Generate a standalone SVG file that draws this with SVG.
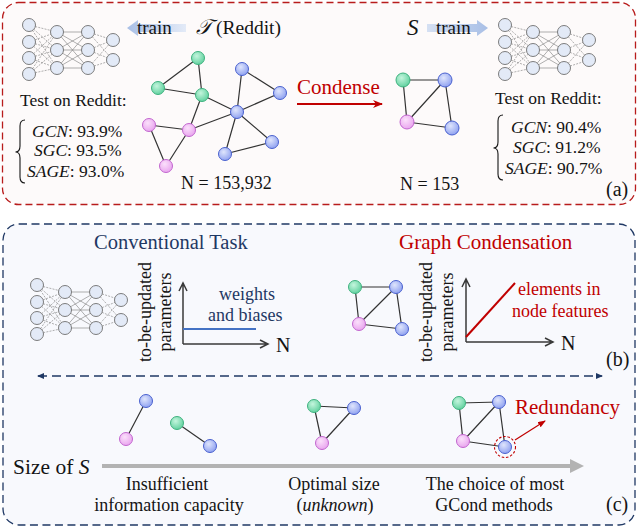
<svg xmlns="http://www.w3.org/2000/svg" xmlns:xlink="http://www.w3.org/1999/xlink" width="640" height="528" viewBox="0 0 640 528" font-family="'Liberation Serif', 'DejaVu Serif', serif">
<defs>
<style>
text{font-family:'Liberation Serif','DejaVu Serif',serif;fill:#141414}
.t175{font-size:17.5px}
.t18{font-size:18px}
.it{font-style:italic}
.red{fill:#c00000}
.navy{fill:#1f3864}
.edge{stroke:#333;stroke-width:1.2;fill:none}
.nn{fill:#e3eaf7;stroke:#6e6e6e;stroke-width:0.9}
.nnl{stroke:#7a7a7a;stroke-width:0.6;fill:none}
.nnd{stroke:#7a7a7a;stroke-width:0.6;fill:none;stroke-dasharray:2 1.2}
.g{fill:url(#gG);stroke:#3fb27f;stroke-width:1}
.b{fill:url(#gB);stroke:#4a61cf;stroke-width:1}
.p{fill:url(#gP);stroke:#c266cf;stroke-width:1}
.axis{stroke:#3a3a3a;stroke-width:1.5;fill:none}
</style>
<radialGradient id="gG" cx="0.4" cy="0.35" r="0.7"><stop offset="0" stop-color="#c4f5dd"/><stop offset="1" stop-color="#5ccf9c"/></radialGradient>
<radialGradient id="gB" cx="0.4" cy="0.35" r="0.7"><stop offset="0" stop-color="#dfe5fc"/><stop offset="1" stop-color="#8b9ef0"/></radialGradient>
<radialGradient id="gP" cx="0.4" cy="0.35" r="0.7"><stop offset="0" stop-color="#fbe0fb"/><stop offset="1" stop-color="#e8a2ee"/></radialGradient>
<linearGradient id="trL" x1="0" y1="0" x2="1" y2="0"><stop offset="0" stop-color="#a9bfe6"/><stop offset="1" stop-color="#e3eaf7"/></linearGradient>
<linearGradient id="trR" x1="0" y1="0" x2="1" y2="0"><stop offset="0" stop-color="#d5e0f3"/><stop offset="1" stop-color="#a9bfe6"/></linearGradient>
<marker id="arRed" markerWidth="10" markerHeight="8" refX="9" refY="4" orient="auto" markerUnits="userSpaceOnUse"><path d="M0,0 L10,4 L0,8 L3,4 Z" fill="#c00000"/></marker>
<marker id="arNavy" markerWidth="7" markerHeight="6" refX="6" refY="3" orient="auto-start-reverse" markerUnits="userSpaceOnUse"><path d="M0,0 L7,3 L0,6 Z" fill="#1f3864"/></marker>
<marker id="arRed2" markerWidth="8" markerHeight="6" refX="7" refY="3" orient="auto" markerUnits="userSpaceOnUse"><path d="M0,0 L8,3 L0,6 Z" fill="#c00000"/></marker>
<g id="nnet">
<path class="nnd" d="M29 25L57 32M29 25L57 50M29 25L57 68M29 42L57 32M29 42L57 50M29 42L57 68M29 58L57 32M29 58L57 50M29 58L57 68M29 74L57 32M29 74L57 50M29 74L57 68"/>
<path class="nnl" d="M57 32L88 32M57 32L88 50M57 32L88 68M57 50L88 32M57 50L88 50M57 50L88 68M57 68L88 32M57 68L88 50M57 68L88 68"/>
<path class="nnd" d="M88 32L113 40M88 32L113 60M88 50L113 40M88 50L113 60M88 68L113 40M88 68L113 60"/>
<circle class="nn" cx="29" cy="25" r="6.5"/><circle class="nn" cx="29" cy="42" r="6.5"/><circle class="nn" cx="29" cy="58" r="6.5"/><circle class="nn" cx="29" cy="74" r="6.5"/>
<circle class="nn" cx="57" cy="32" r="6.5"/><circle class="nn" cx="57" cy="50" r="6.5"/><circle class="nn" cx="57" cy="68" r="6.5"/>
<circle class="nn" cx="88" cy="32" r="6.5"/><circle class="nn" cx="88" cy="50" r="6.5"/><circle class="nn" cx="88" cy="68" r="6.5"/>
<circle class="nn" cx="113" cy="40" r="6.5"/><circle class="nn" cx="113" cy="60" r="6.5"/>
</g>
</defs>

<!-- panel frames -->
<rect x="2.5" y="2.5" width="633" height="202" rx="16" fill="#fdfafa" stroke="#b81c1c" stroke-width="1.3" stroke-dasharray="7 4"/>
<rect x="3" y="224" width="632" height="301" rx="16" fill="#f8f9fd" stroke="#1f3864" stroke-width="1.3" stroke-dasharray="8 4.5"/>

<!-- (a) neural nets -->
<g id="nn-left"><use xlink:href="#nnet"/></g>
<g id="nn-right"><use xlink:href="#nnet" transform="translate(476,0)"/></g>

<!-- train arrows -->
<g id="train-left">
<polygon points="127,28 138,20 138,24 186,24 186,32 138,32 138,36" fill="url(#trL)"/>
<text x="137" y="34" style="font-size:19px">train</text>
</g>
<g id="train-right">
<polygon points="427,24 477,24 477,20 488,28 477,36 477,32 427,32" fill="url(#trR)"/>
<text x="436" y="34" style="font-size:19px">train</text>
</g>
<text x="196" y="34" style="font-size:21px" class="it">𝒯</text>
<text x="216" y="34" style="font-size:19.5px">(Reddit)</text>
<text x="407" y="35" style="font-size:23px" class="it">S</text>

<!-- test results left -->
<g id="test-left">
<text x="20" y="106" class="t175">Test on Reddit:</text>
<path d="M25 120 Q20 120 20 126 L20 146 Q20 152 15.5 152 Q20 152 20 158 L20 177 Q20 183 25 183" fill="none" stroke="#141414" stroke-width="1.1"/>
<text x="32" y="137" class="t175"><tspan class="it">GCN</tspan>: 93.9%</text>
<text x="34" y="156" class="t175"><tspan class="it">SGC</tspan>: 93.5%</text>
<text x="27" y="177" class="t175"><tspan class="it">SAGE</tspan>: 93.0%</text>
</g>
<g id="test-right">
<text x="495" y="104" class="t175">Test on Reddit:</text>
<path d="M503 115 Q498 115 498 121 L498 142 Q498 148 493.5 148 Q498 148 498 154 L498 174 Q498 180 503 180" fill="none" stroke="#141414" stroke-width="1.1"/>
<text x="511" y="133" class="t175"><tspan class="it">GCN</tspan>: 90.4%</text>
<text x="513" y="153" class="t175"><tspan class="it">SGC</tspan>: 91.2%</text>
<text x="505" y="174" class="t175"><tspan class="it">SAGE</tspan>: 90.7%</text>
</g>

<!-- big graph T -->
<g id="edges-T">
<path class="edge" d="M198 58L158 88M198 58L202 95M158 88L202 95M202 95L237 112M202 95L189 130M242 69L237 112M242 69L280 93M280 93L237 112M237 112L272 142M237 112L225 154M272 142L225 154M237 112L189 130M149 125L189 130M149 125L166 166M189 130L166 166"/>
</g>
<g id="T-g1"><circle class="g" cx="198" cy="58" r="6.5"/></g>
<g id="T-g2"><circle class="g" cx="158" cy="88" r="6.5"/></g>
<g id="T-g3"><circle class="g" cx="202" cy="95" r="6.5"/></g>
<g id="T-b1"><circle class="b" cx="242" cy="69" r="6.5"/></g>
<g id="T-b2"><circle class="b" cx="280" cy="93" r="6.5"/></g>
<g id="T-b3"><circle class="b" cx="237" cy="112" r="6.5"/></g>
<g id="T-b4"><circle class="b" cx="272" cy="142" r="6.5"/></g>
<g id="T-b5"><circle class="b" cx="225" cy="154" r="6.5"/></g>
<g id="T-p1"><circle class="p" cx="149" cy="125" r="6.5"/></g>
<g id="T-p2"><circle class="p" cx="189" cy="130" r="6.5"/></g>
<g id="T-p3"><circle class="p" cx="166" cy="166" r="6.5"/></g>
<text x="181" y="189" class="t18">N = 153,932</text>

<!-- condense arrow -->
<g id="condense">
<text x="297" y="94" style="font-size:21px" class="red">Condense</text>
<line x1="297" y1="104" x2="382" y2="104" stroke="#c00000" stroke-width="2" marker-end="url(#arRed)"/>
</g>

<!-- small graph S -->
<g id="edges-S"><path class="edge" d="M403 80L445 80M403 80L407 122M407 122L445 80M445 80L452 128M407 122L452 128"/></g>
<g id="S-g"><circle class="g" cx="403" cy="80" r="7"/></g>
<g id="S-b1"><circle class="b" cx="445" cy="80" r="7"/></g>
<g id="S-p"><circle class="p" cx="407" cy="122" r="7"/></g>
<g id="S-b2"><circle class="b" cx="452" cy="128" r="7"/></g>
<text x="400" y="190" class="t18">N = 153</text>
<text x="606" y="196" style="font-size:20px">(a)</text>

<!-- (b) -->
<text x="94" y="249" style="font-size:20.5px" class="navy">Conventional Task</text>
<text x="399" y="249" style="font-size:21px" class="red">Graph Condensation</text>
<g id="nn-mid"><use xlink:href="#nnet" transform="translate(8,260)"/></g>

<g id="plot-left">
<text class="t18" text-anchor="middle" transform="translate(151,312) rotate(-90)">to-be-updated</text>
<text class="t18" text-anchor="middle" transform="translate(171,312) rotate(-90)">parameters</text>
<path class="axis" d="M183 344L183 283M179 291L183 283L187 291M183 344L268 344M260 340L268 344L260 348"/>
<line x1="183" y1="329" x2="256" y2="329" stroke="#4472c4" stroke-width="2"/>
<text x="219" y="300" class="t18 navy">weights</text>
<text x="208" y="321" class="t18 navy">and biases</text>
<text x="276" y="352" style="font-size:20px">N</text>
</g>

<g id="edges-mid"><path class="edge" d="M355 287L396 287M355 287L359 324M359 324L396 287M396 287L402 329M359 324L402 329"/></g>
<g id="M-g"><circle class="g" cx="355" cy="287" r="6.5"/></g>
<g id="M-b1"><circle class="b" cx="396" cy="287" r="6.5"/></g>
<g id="M-p"><circle class="p" cx="359" cy="324" r="6.5"/></g>
<g id="M-b2"><circle class="b" cx="402" cy="329" r="6.5"/></g>

<g id="plot-right">
<text class="t18" text-anchor="middle" transform="translate(432,312) rotate(-90)">to-be-updated</text>
<text class="t18" text-anchor="middle" transform="translate(453,312) rotate(-90)">parameters</text>
<path class="axis" d="M466 342L466 279M462 287L466 279L470 287M466 342L553 342M545 338L553 342L545 346"/>
<line x1="466" y1="337" x2="515" y2="283" stroke="#c00000" stroke-width="2"/>
<text x="518" y="295" class="t18 red">elements in</text>
<text x="512" y="317" class="t18 red">node features</text>
<text x="561" y="350" style="font-size:20px">N</text>
</g>
<text x="606" y="366" style="font-size:20px">(b)</text>

<!-- divider -->
<g id="connectors">
<line x1="38" y1="376" x2="602" y2="376" stroke="#1f3864" stroke-width="1.4" stroke-dasharray="9 5" marker-start="url(#arNavy)" marker-end="url(#arNavy)"/>
<line x1="102" y1="466" x2="572" y2="466" stroke="#b3b3b3" stroke-width="4"/>
<polygon points="570,459 584,466 570,473" fill="#b3b3b3"/>
<line x1="515" y1="440" x2="545" y2="421" stroke="#c00000" stroke-width="1.2" marker-end="url(#arRed2)"/>
<path class="edge" d="M146 401L126 439M177 423L210 446M314 406L354 408M314 406L322 443M354 408L322 443M459 403L499 402M459 403L463 441M463 441L499 402M499 402L505 447M463 441L505 447"/>
</g>

<!-- (c) graphs -->
<g id="c1-b"><circle class="b" cx="146" cy="401" r="6.5"/></g>
<g id="c1-p"><circle class="p" cx="126" cy="439" r="6.5"/></g>
<g id="c2-g"><circle class="g" cx="177" cy="423" r="6.5"/></g>
<g id="c2-b"><circle class="b" cx="210" cy="446" r="6.5"/></g>
<g id="c3-g"><circle class="g" cx="314" cy="406" r="6.5"/></g>
<g id="c3-b"><circle class="b" cx="354" cy="408" r="6.5"/></g>
<g id="c3-p"><circle class="p" cx="322" cy="443" r="6.5"/></g>
<g id="c4-g"><circle class="g" cx="459" cy="403" r="6.5"/></g>
<g id="c4-b1"><circle class="b" cx="499" cy="402" r="6.5"/></g>
<g id="c4-p"><circle class="p" cx="463" cy="441" r="6.5"/></g>
<g id="c4-b2"><circle class="b" cx="505" cy="447" r="6.5"/><circle cx="505" cy="447" r="10.5" fill="none" stroke="#c00000" stroke-width="1.1" stroke-dasharray="2.5 1.8"/></g>
<text x="515" y="414" style="font-size:21px" class="red">Redundancy</text>

<text x="13" y="474" style="font-size:21.5px">Size of <tspan class="it">S</tspan></text>
<text x="167" y="490" class="t18" text-anchor="middle">Insufficient</text>
<text x="169" y="511" class="t18" text-anchor="middle">information capacity</text>
<text x="334" y="490" class="t18" text-anchor="middle">Optimal size</text>
<text x="335" y="511" class="t18" text-anchor="middle">(<tspan class="it">unknown</tspan>)</text>
<text x="495" y="490" class="t18" text-anchor="middle">The choice of most</text>
<text x="494" y="511" class="t18" text-anchor="middle">GCond methods</text>
<text x="606" y="511" style="font-size:20px">(c)</text>
</svg>
